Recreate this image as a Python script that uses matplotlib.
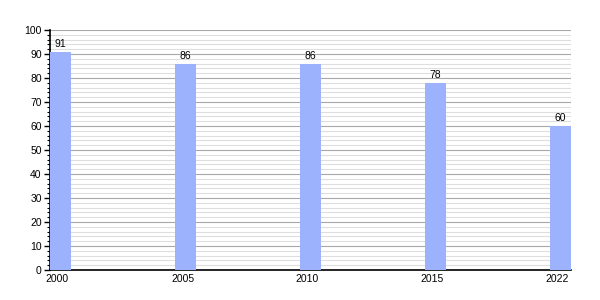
import matplotlib
matplotlib.use('Agg')
import matplotlib.pyplot as plt
from matplotlib.ticker import MultipleLocator

years = ['2000', '2005', '2010', '2015', '2022']
values = [91, 86, 86, 78, 60]

plt.rcParams['font.family'] = ['Liberation Sans', 'DejaVu Sans']

fig = plt.figure(figsize=(6, 3), dpi=100)
ax = fig.add_axes([50 / 600, 30 / 300, 521 / 600, 240 / 300])

w = 0.168
xs = list(range(len(years)))
ax.bar(xs, values, width=w, align='edge', color='#9cb2fc', zorder=3)
for x, v in zip(xs, values):
    ax.text(x + w / 2, v + 1.2, str(v), ha='center', va='bottom', fontsize=7.5, zorder=4)

ax.set_xlim(0, len(years) - 1 + w)
ax.set_ylim(0, 100)
ax.set_xticks([x + 0.06 for x in xs])
ax.set_xticklabels(years)
ax.tick_params(axis='x', length=0, labelsize=7.5, pad=3)

ax.yaxis.set_major_locator(MultipleLocator(10))
ax.yaxis.set_minor_locator(MultipleLocator(2))
ax.tick_params(axis='y', which='major', length=4, width=1, labelsize=7.5, pad=2)
ax.tick_params(axis='y', which='minor', length=2, width=0.8)

ax.grid(axis='y', which='major', color='#a8a8a8', linewidth=0.8, zorder=0)
ax.grid(axis='y', which='minor', color='#dedede', linewidth=0.8, zorder=0)

for s in ['top', 'right']:
    ax.spines[s].set_visible(False)
ax.spines['left'].set_linewidth(1.2)
ax.spines['bottom'].set_linewidth(1.2)

fig.savefig('out.png', dpi=100)
